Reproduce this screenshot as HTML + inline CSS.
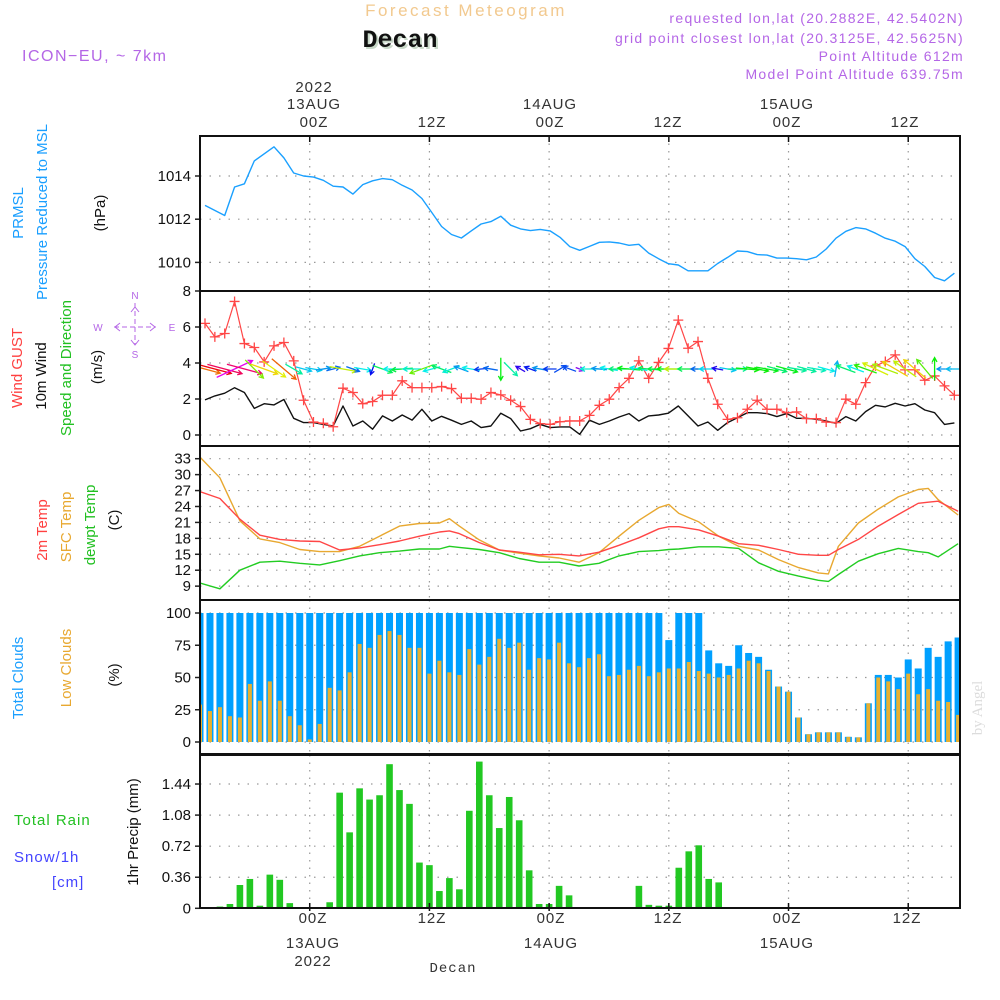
<!DOCTYPE html>
<html><head><meta charset="utf-8"><title>Meteogram Decan</title>
<style>
html,body{margin:0;padding:0;background:#fff;}
svg{display:block;font-family:"Liberation Sans",sans-serif;}
.tk{font-size:15px;fill:#111;text-anchor:end;}
.tt{font-size:15px;fill:#333;text-anchor:middle;letter-spacing:1px;}
.pur{fill:#b466e6;font-size:14px;letter-spacing:1.3px;text-anchor:end;}
</style></head>
<body>
<svg id="chart" width="1000" height="1000" viewBox="0 0 1000 1000" xmlns="http://www.w3.org/2000/svg">
<rect x="0" y="0" width="1000" height="1000" fill="#fff"/>
<text x="466" y="16" font-size="17" fill="#f2c98f" text-anchor="middle" letter-spacing="2.5">Forecast Meteogram</text>
<text x="402" y="49" font-size="25" font-weight="bold" font-family="Liberation Mono, monospace" fill="#c8d8c8" text-anchor="middle">Decan</text>
<text x="400" y="47" font-size="25" font-weight="bold" font-family="Liberation Mono, monospace" fill="#111" text-anchor="middle">Decan</text>
<text x="22" y="61" font-size="16" fill="#b466e6" letter-spacing="1.5">ICON−EU, ~ 7km</text>
<text x="964" y="23" class="pur">requested lon,lat (20.2882E, 42.5402N)</text>
<text x="964" y="43" class="pur">grid point closest lon,lat (20.3125E, 42.5625N)</text>
<text x="964" y="61" class="pur">Point Altitude 612m</text>
<text x="964" y="79" class="pur">Model Point Altitude 639.75m</text>

<g>
<text x="314" y="92" class="tt">2022</text>
<text x="314" y="109" class="tt">13AUG</text>
<text x="314" y="127" class="tt">00Z</text>
<text x="432" y="127" class="tt">12Z</text>
<text x="550" y="109" class="tt">14AUG</text>
<text x="550" y="127" class="tt">00Z</text>
<text x="668" y="127" class="tt">12Z</text>
<text x="787" y="109" class="tt">15AUG</text>
<text x="787" y="127" class="tt">00Z</text>
<text x="905" y="127" class="tt">12Z</text>
</g>
<g>
<text x="313" y="923" class="tt">00Z</text>
<text x="432" y="923" class="tt">12Z</text>
<text x="551" y="923" class="tt">00Z</text>
<text x="668" y="923" class="tt">12Z</text>
<text x="787" y="923" class="tt">00Z</text>
<text x="907" y="923" class="tt">12Z</text>
<text x="313" y="948" class="tt">13AUG</text>
<text x="551" y="948" class="tt">14AUG</text>
<text x="787" y="948" class="tt">15AUG</text>
<text x="313" y="966" class="tt">2022</text>
<text x="453" y="972" font-size="14" font-family="Liberation Mono, monospace" fill="#333" text-anchor="middle" letter-spacing="1">Decan</text>
</g>

<g>
<text transform="translate(23,213) rotate(-90)" font-size="15" fill="#1a9fff" text-anchor="middle">PRMSL</text>
<text transform="translate(47,212) rotate(-90)" font-size="15" fill="#1a9fff" text-anchor="middle">Pressure Reduced to MSL</text>
<text transform="translate(105,213) rotate(-90)" font-size="15" fill="#111" text-anchor="middle">(hPa)</text>
</g>
<g>
<text transform="translate(22,368) rotate(-90)" font-size="15" fill="#ff4040" text-anchor="middle">Wind GUST</text>
<text transform="translate(46,376) rotate(-90)" font-size="15" fill="#111" text-anchor="middle">10m Wind</text>
<text transform="translate(71,368) rotate(-90)" font-size="15" fill="#22c022" text-anchor="middle">Speed and Direction</text>
<text transform="translate(102,367) rotate(-90)" font-size="15" fill="#111" text-anchor="middle">(m/s)</text>
</g>
<g fill="#b466e6" stroke="#b466e6" font-size="10">
<text x="135" y="299" text-anchor="middle" stroke="none">N</text>
<text x="135" y="358" text-anchor="middle" stroke="none">S</text>
<text x="98" y="331" text-anchor="middle" stroke="none">W</text>
<text x="172" y="331" text-anchor="middle" stroke="none">E</text>
<line x1="135" y1="303" x2="135" y2="345" stroke-width="1" stroke-dasharray="5,3"/>
<line x1="114" y1="327" x2="156" y2="327" stroke-width="1" stroke-dasharray="5,3"/>
<polyline points="131,312 135,307 139,312" fill="none" stroke-width="1"/>
<polyline points="131,340 135,345 139,340" fill="none" stroke-width="1"/>
<polyline points="120,323 115,327 120,331" fill="none" stroke-width="1"/>
<polyline points="150,323 155,327 150,331" fill="none" stroke-width="1"/>
</g>
<g>
<text transform="translate(47,530) rotate(-90)" font-size="15" fill="#ff4040" text-anchor="middle">2m Temp</text>
<text transform="translate(71,527) rotate(-90)" font-size="15" fill="#e8a830" text-anchor="middle">SFC Temp</text>
<text transform="translate(95,525) rotate(-90)" font-size="15" fill="#22c022" text-anchor="middle">dewpt Temp</text>
<text transform="translate(119,520) rotate(-90)" font-size="15" fill="#111" text-anchor="middle">(C)</text>
</g>
<g>
<text transform="translate(23,678) rotate(-90)" font-size="15" fill="#1a9fff" text-anchor="middle">Total Clouds</text>
<text transform="translate(71,668) rotate(-90)" font-size="15" fill="#e8a830" text-anchor="middle">Low Clouds</text>
<text transform="translate(119,675) rotate(-90)" font-size="15" fill="#111" text-anchor="middle">(%)</text>
</g>
<g>
<text x="14" y="825" font-size="15" fill="#22c022" letter-spacing="1">Total   Rain</text>
<text x="14" y="862" font-size="15" fill="#4444ff" letter-spacing="1">Snow/1h</text>
<text x="52" y="887" font-size="15" fill="#4444ff" letter-spacing="1">[cm]</text>
<text transform="translate(138,832) rotate(-90)" font-size="15" fill="#111" text-anchor="middle">1hr Precip (mm)</text>
</g>
<text transform="translate(982,708) rotate(-90)" font-size="15" fill="#dcdcdc" font-family="Liberation Serif, serif" text-anchor="middle">by Angel</text>
</svg>
<script>
// ---------- data ----------
const pressHours = [0,2,3,4,5,7,8,9,10,11,12,13,14,15,16,17,18,19,20,21,22,23,24,25,26,27,28,29,30,31,32,33,34,35,36,37,38,39,40,41,42,43,44,45,46,47,48,49,50,51,52,53,54,55,56,57,58,59,60,61,62,63,64,65,66,67,68,69,70,71,72,73,74,75,76];
const pressVals = [1012.64,1012.17,1013.49,1013.64,1014.70,1015.35,1014.84,1014.14,1014.00,1013.95,1013.80,1013.53,1013.49,1013.16,1013.60,1013.78,1013.88,1013.83,1013.57,1013.35,1012.96,1012.31,1011.66,1011.29,1011.13,1011.46,1011.78,1011.89,1012.14,1011.72,1011.55,1011.47,1011.53,1011.46,1011.16,1010.73,1010.56,1010.74,1010.93,1010.95,1010.90,1010.79,1010.84,1010.43,1010.17,1009.94,1009.88,1009.61,1009.61,1009.61,1009.95,1010.23,1010.53,1010.50,1010.36,1010.34,1010.20,1010.20,1010.17,1010.12,1010.25,1010.62,1011.12,1011.44,1011.61,1011.55,1011.35,1011.12,1010.98,1010.73,1010.17,1009.81,1009.30,1009.15,1009.50];
const pressTicks = [1010,1012,1014];

const gustVals = [6.20,5.45,5.64,7.42,5.08,4.86,4.06,4.95,5.14,4.12,1.93,0.72,0.65,0.46,2.60,2.36,1.74,1.86,2.21,2.21,3.01,2.63,2.63,2.63,2.69,2.58,2.04,2.04,1.99,2.36,2.23,1.93,1.58,0.87,0.63,0.59,0.74,0.78,0.78,1.09,1.65,1.99,2.63,3.15,4.12,3.15,4.03,4.81,6.38,4.82,5.19,3.15,1.71,0.87,0.96,1.43,1.93,1.43,1.43,1.24,1.28,0.91,0.91,0.72,0.69,1.99,1.71,2.91,3.84,4.08,4.45,3.62,3.62,3.04,3.28,2.73,2.21];
const wind10Vals = [1.95,2.17,2.32,2.63,2.36,1.48,1.74,1.67,1.97,0.93,0.69,0.69,0.59,0.50,1.61,0.50,0.78,0.32,1.06,0.78,1.11,0.83,1.43,0.78,1.04,0.82,0.59,0.78,0.41,0.50,1.21,0.91,0.22,0.35,0.59,0.41,0.45,0.45,0.04,0.82,0.59,0.78,1.00,1.19,0.78,1.06,1.11,1.21,1.61,1.06,0.50,0.72,0.26,0.69,0.96,1.24,1.24,1.19,1.02,1.19,0.93,0.93,0.87,0.78,0.65,1.02,0.78,1.30,1.65,1.56,1.76,1.61,1.74,1.39,1.24,0.59,0.67];
const windDir = [-15,-15,-15,25,-15,-45,-20,-35,-40,-30,-15,-10,10,15,-10,-20,-10,-110,-20,180,185,180,200,195,160,200,160,170,185,170,-90,-45,150,160,170,180,30,160,-20,180,175,170,180,175,170,175,180,180,180,180,180,180,170,-10,0,-5,-10,-10,-15,-15,-10,-15,-10,-15,80,160,160,160,155,160,150,145,140,130,90,180,180];
const windTicks = [0,2,4,6,8];

const tempHours = [0,2,4,6,8,10,12,14,16,18,20,22,24,25,26,28,30,32,34,36,38,40,42,44,46,47,48,50,52,54,56,58,60,62,63,64,66,68,70,72,73,74,76];
const temp2m = [26.8,25.5,21.6,18.6,17.8,17.5,17.4,15.8,16.2,16.8,17.5,18.4,19.2,19.4,18.9,17.2,15.8,15.4,14.9,15.0,14.7,15.4,16.7,18.1,19.8,20.2,20.2,19.6,18.4,17.0,16.7,15.9,15.0,14.8,14.8,15.9,17.8,20.3,22.5,24.6,24.8,25.0,23.1];
const tempSfc = [33.3,29.4,21.3,17.9,17.2,15.9,15.5,15.5,16.5,18.4,20.3,20.8,20.9,21.7,20.3,17.7,15.8,15.2,14.7,14.3,13.5,15.3,18.4,21.4,23.8,24.4,22.7,21.1,18.4,16.5,15.8,14.0,12.5,11.5,11.3,16.5,20.9,23.5,25.8,27.2,27.4,25.3,22.4];
const tempDew = [9.6,8.5,12.0,13.5,13.7,13.3,13.0,13.8,14.7,15.3,15.6,16.0,16.0,16.5,16.3,15.9,15.3,14.2,13.5,13.5,12.8,13.3,14.7,15.5,15.7,15.9,16.0,16.4,16.4,16.1,13.4,11.8,10.9,10.1,9.9,11.2,13.7,15.1,16.1,15.5,15.3,14.5,17.0];
const tempTicks = [9,12,15,18,21,24,27,30,33];

const totalClouds = [100,100,100,100,100,100,100,100,100,100,100,100,100,100,100,100,100,100,100,100,100,100,100,100,100,100,100,100,100,100,100,100,100,100,100,100,100,100,100,100,100,100,100,100,100,100,100,79,100,100,100,71,61,59,75,69,66,56,43,39,19,6,7.5,7.5,7.5,4,3.6,30,52,52,50,64,57,73,66,78,81];
const lowClouds = [29,24,27,20,19,45,32,47,32,20,13,2,14,42,40,54,76,73,83,86,83,73,73,53,63,54,52,72,60,66,80,73,77,56,65,64,77,61,58,65,68,51,52,56,59,51,54,57,57,62,55,53,50,52,57,63,61,55,43,39,19,6,7.5,7.5,7.5,4,3.6,30,50,47,41,53,37,41,32,31,21];
const cloudTicks = [0,25,50,75,100];

const precipVals = [0,0,0.02,0.05,0.27,0.34,0.03,0.39,0.33,0.06,0,0,0,0.07,1.34,0.88,1.39,1.26,1.31,1.67,1.37,1.21,0.53,0.50,0.20,0.35,0.22,1.13,1.70,1.31,0.93,1.29,1.02,0.44,0.05,0.05,0.26,0.15,0,0,0,0,0,0,0.26,0.04,0.03,0.03,0.47,0.66,0.73,0.34,0.30,0,0,0,0,0,0,0,0,0,0,0,0,0,0,0,0,0,0,0,0,0,0,0,0];
const precipTicks = [0,0.36,0.72,1.08,1.44];
const precipTickLabels = ["0","0.36","0.72","1.08","1.44"];

const gridHours = [11,23,35,47,59,71];

// ---------- axes ----------
const X0 = 200, X1 = 960, HOUR = 9.975;
function x(h){ return X0 + h*HOUR; }
function xl(h){ return 205 + h*9.86; }
const yP = v => 176 + (1014 - v)*21.6;
const yW = v => 435 - v*18;
const yT = v => 458.7 + (33 - v)*5.31;
const yC = v => 742 - v*1.29;
const yR = v => 908.3 - v*86.3;

const NS = "http://www.w3.org/2000/svg";
const svg = document.getElementById('chart');
function el(tag, attrs, parent){
  const e = document.createElementNS(NS, tag);
  for (const k in attrs) e.setAttribute(k, attrs[k]);
  (parent || svg).appendChild(e);
  return e;
}

const defs = el('defs', {});
const cp = el('clipPath', {id:'plotclip'}, defs);
el('rect', {x:X0, y:136, width:X1-X0, height:772}, cp);

const panels = [
  {name:'pressure-panel', top:136, bot:291, ticks:pressTicks, labels:pressTicks.map(String), y:yP},
  {name:'wind-panel', top:291, bot:446, ticks:windTicks, labels:windTicks.map(String), y:yW},
  {name:'temperature-panel', top:446, bot:600, ticks:tempTicks, labels:tempTicks.map(String), y:yT},
  {name:'cloud-panel', top:600, bot:754, ticks:cloudTicks, labels:cloudTicks.map(String), y:yC},
  {name:'precip-panel', top:755, bot:908, ticks:precipTicks, labels:precipTickLabels, y:yR}
];

panels.forEach(p => {
  const g = el('g', {});
  
  
  gridHours.forEach(h => {
    const gl = el('line', {x1:x(h), x2:x(h), y1:p.top, y2:p.bot, stroke:'#999', 'stroke-width':1.2, 'stroke-dasharray':'1.5,6'}, g);
    
    
  });
  p.ticks.forEach((t, i) => {
    const yy = p.y(t);
    if (yy > p.top + 2 && yy < p.bot - 2) {
      const hl = el('line', {x1:X0, x2:X1, y1:yy, y2:yy, stroke:'#999', 'stroke-width':1.2, 'stroke-dasharray':'1.5,8'}, g);
      
      
    }
    const tm = el('line', {x1:X0-5, x2:X0, y1:yy, y2:yy, stroke:'#222', 'stroke-width':1.5}, g);
    
    
    const tl = el('text', {x:191, y:yy+5, class:'tk'}, g);
    tl.textContent = p.labels[i];
    
    
  });
});

// ---------- clouds ----------
const cg = el('g', {'clip-path':'url(#plotclip)'});


totalClouds.forEach((v, i) => {
  const b = el('rect', {x:x(i)-3.5, y:yC(v), width:7, height:yC(0)-yC(v), fill:'#00a0ff'}, cg);
  
  
});
lowClouds.forEach((v, i) => {
  const b = el('rect', {x:x(i)-2, y:yC(v), width:4, height:yC(0)-yC(v), fill:'#e8b030'}, cg);
  
  
});

// ---------- precip ----------
const rg = el('g', {'clip-path':'url(#plotclip)'});


precipVals.forEach((v, i) => {
  if (v <= 0) return;
  const b = el('rect', {x:x(i)-3.3, y:yR(v), width:6.6, height:yR(0)-yR(v), fill:'#22c822'}, rg);
  
  
});

// ---------- lines ----------
function line(hours, vals, xf, yf, color, name, w){
  const pts = vals.map((v, i) => xf(hours[i]).toFixed(1) + ',' + yf(v).toFixed(1)).join(' ');
  const pl = el('polyline', {points:pts, fill:'none', stroke:color, 'stroke-width':w||1.4, 'stroke-linejoin':'round', 'clip-path':'url(#plotclip)'});
  
  
  return pl;
}
const idx = gustVals.map((_, i) => i);
line(pressHours, pressVals, xl, yP, '#1aa0ff', 'pressure-line', 1.4);
line(tempHours, tempSfc, x, yT, '#e8a830', 'sfc-temp-line', 1.4);
line(tempHours, temp2m, x, yT, '#ff4646', 'temp-2m-line', 1.4);
line(tempHours, tempDew, x, yT, '#22cc22', 'dewpt-temp-line', 1.4);
line(idx, wind10Vals, xl, yW, '#111', 'wind-10m-line', 1.4);
line(idx, gustVals, xl, yW, '#ff4646', 'wind-gust-line', 1.2);

const mg = el('g', {stroke:'#ff4646', 'stroke-width':1.3, 'clip-path':'url(#plotclip)'});


gustVals.forEach((v, i) => {
  const cx = xl(i), cy = yW(v);
  const m = el('path', {d:`M${cx-5},${cy}H${cx+5}M${cx},${cy-5}V${cy+5}`}, mg);
  
  
});

const ag = el('g', {'stroke-width':1.3, fill:'none', 'clip-path':'url(#plotclip)'});


windDir.forEach((d, i) => {
  const spd = wind10Vals[i];
  const hue = ((280 - spd*130) % 360 + 360) % 360;
  const col = `hsl(${hue.toFixed(0)},95%,48%)`;
  const L = 8 + spd*12;
  const a = d*Math.PI/180;
  const dx = Math.cos(a), dy = -Math.sin(a);
  const cx = xl(i), cy = 369;
  const sx = cx - dx*L/2, sy = cy - dy*L/2, ex = cx + dx*L/2, ey = cy + dy*L/2;
  const h = 5, ha = 0.5;
  const h1x = ex - h*(dx*Math.cos(ha) - dy*Math.sin(ha)), h1y = ey - h*(dy*Math.cos(ha) + dx*Math.sin(ha));
  const h2x = ex - h*(dx*Math.cos(-ha) - dy*Math.sin(-ha)), h2y = ey - h*(dy*Math.cos(-ha) + dx*Math.sin(-ha));
  const ar = el('path', {d:`M${sx.toFixed(1)},${sy.toFixed(1)}L${ex.toFixed(1)},${ey.toFixed(1)}M${h1x.toFixed(1)},${h1y.toFixed(1)}L${ex.toFixed(1)},${ey.toFixed(1)}L${h2x.toFixed(1)},${h2y.toFixed(1)}`, stroke:col}, ag);
  
  
});

// ---------- frames and x ticks ----------
panels.forEach(p => {
  const f = el('rect', {x:X0, y:p.top, width:X1-X0, height:p.bot-p.top, fill:'none', stroke:'#111', 'stroke-width':2});
  
  
});
gridHours.forEach(h => {
  const t1 = el('line', {x1:x(h), x2:x(h), y1:136, y2:142, stroke:'#111', 'stroke-width':1.5});
  
  
  const t2 = el('line', {x1:x(h), x2:x(h), y1:903, y2:911, stroke:'#111', 'stroke-width':1.5});
  
  
});
</script>
</body></html>
